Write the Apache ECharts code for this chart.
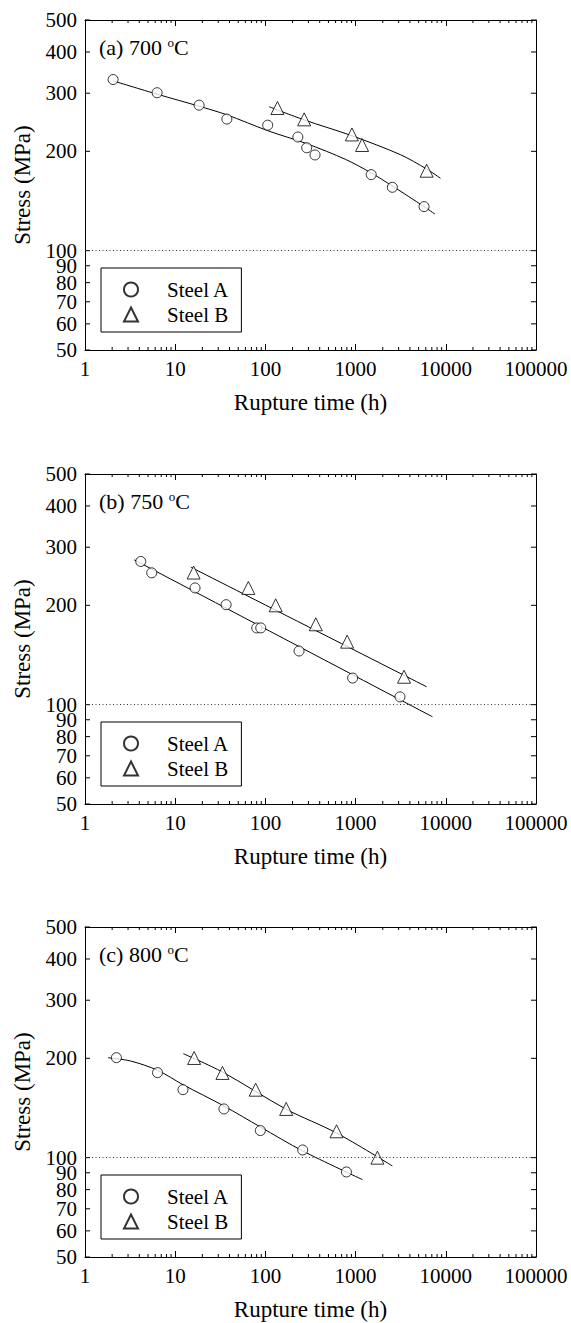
<!DOCTYPE html>
<html>
<head>
<meta charset="utf-8">
<script src="https://cdn.jsdelivr.net/npm/echarts@6/dist/echarts.min.js"></script>
<style>
html,body{margin:0;padding:0;background:#fff;}
#chart{width:571px;height:1323px;}
</style>
</head>
<body>
<div id="chart"></div>
<script>
// ---------- tick labels ----------
const xTickLabels = [1, 10, 100, 1000, 10000, 100000];
const xMinorTicks = [2,3,4,5,6,7,8,9, 20,30,40,50,60,70,80,90, 200,300,400,500,600,700,800,900,
                     2000,3000,4000,5000,6000,7000,8000,9000, 20000,30000,40000,50000,60000,70000,80000,90000];
const yTickValues = [50, 60, 70, 80, 90, 100, 200, 300, 400, 500];
const panelTemps = ['(a) 700 ', '(b) 750 ', '(c) 800 '];
const seriesNames = ['Steel A', 'Steel B'];

// ---------- (a) 700 °C ----------
const a_steelA_time   = [2.05, 6.3, 18.4, 37.4, 106, 229, 287, 355, 1490, 2555, 5740];
const a_steelA_stress = [330, 301, 276, 250.5, 240, 221, 205, 195, 170, 155.6, 136];
const a_steelB_time   = [136, 269, 910, 1180, 6130];
const a_steelB_stress = [270.6, 250, 225, 209, 174.7];
const a_fitA_time     = [2.05, 6.3, 18.4, 37.4, 106, 287, 776, 1490, 2555, 5740, 7590];
const a_fitA_stress   = [327, 298, 274, 258, 231, 211, 189, 172, 157, 136, 129];
const a_fitB_time     = [110, 269, 910, 3135, 6130, 8730];
const a_fitB_stress   = [273, 249, 223, 195.4, 176.8, 165.7];

// ---------- (b) 750 °C ----------
const b_steelA_time   = [4.15, 5.49, 16.6, 36.7, 80.1, 88.8, 236, 927, 3105];
const b_steelA_stress = [271.6, 250.9, 225.8, 200.9, 170.8, 170.8, 145.4, 120.4, 105.6];
const b_steelB_time   = [16.0, 64.7, 130, 362, 806, 3443];
const b_steelB_stress = [251.4, 225.8, 200, 175.2, 155.2, 121.5];
const b_fitA_time     = [3.51, 7115];
const b_fitA_stress   = [274.7, 91.9];
const b_fitB_time     = [14.9, 6130];
const b_fitB_stress   = [261, 113.3];

// ---------- (c) 800 °C ----------
const c_steelA_time   = [2.23, 6.37, 12.2, 34.7, 87.9, 259, 791];
const c_steelA_stress = [200.9, 181, 160.7, 140.5, 120.8, 105.5, 90.5];
const c_steelB_time   = [16.2, 33.4, 78, 170, 615, 1745];
const c_steelB_stress = [200.5, 180.6, 160.7, 140.5, 120.2, 100];
const c_fitA_time     = [1.80, 3.2, 6.37, 12.2, 34.7, 87.9, 259, 1191];
const c_fitA_stress   = [200.9, 196.3, 184, 166.4, 143.4, 123.9, 104.8, 85.8];
const c_fitB_time     = [12.3, 33.4, 170, 615, 2555];
const c_fitB_stress   = [206.6, 181.8, 140.2, 118.8, 94.4];

const refLineStress = 100;

// ---------- build ----------
const FONT = "'Liberation Serif','Times New Roman',serif";
const zip = (xs, ys) => xs.map((x, k) => [x, ys[k]]);

const panelData = [
  {A: zip(a_steelA_time, a_steelA_stress), B: zip(a_steelB_time, a_steelB_stress),
   fA: zip(a_fitA_time, a_fitA_stress), fB: zip(a_fitB_time, a_fitB_stress)},
  {A: zip(b_steelA_time, b_steelA_stress), B: zip(b_steelB_time, b_steelB_stress),
   fA: zip(b_fitA_time, b_fitA_stress), fB: zip(b_fitB_time, b_fitB_stress)},
  {A: zip(c_steelA_time, c_steelA_stress), B: zip(c_steelB_time, c_steelB_stress),
   fA: zip(c_fitA_time, c_fitA_stress), fB: zip(c_fitB_time, c_fitB_stress)}
];

const panelTops = [20, 474, 927];
const GL = 85, GW = 451, GH = 330;
const xMin = xTickLabels[0], xMax = xTickLabels[xTickLabels.length - 1];
const yMin = yTickValues[0], yMax = yTickValues[yTickValues.length - 1];

const grid = [], xAxis = [], yAxis = [], series = [], legend = [], title = [];
const black = '#000';

panelTops.forEach((T, i) => {
  grid.push({left: GL, top: T, width: GW, height: GH});
  const axisLine = {show: true, lineStyle: {color: black, width: 1}};
  xAxis.push({
    type: 'log', logBase: 10, gridIndex: i, min: xMin, max: xMax, position: 'bottom',
    axisLine, axisTick: {show: true, inside: true, length: 6, lineStyle: {color: black}},
    axisLabel: {color: black, fontSize: 21, fontFamily: FONT, margin: 8,
                formatter: v => String(Math.round(v))},
    splitLine: {show: false},
    name: 'Rupture time (h)', nameLocation: 'middle', nameGap: 41,
    nameTextStyle: {color: black, fontSize: 23, fontFamily: FONT, fontWeight: 'normal'}
  });
  xAxis.push({
    type: 'log', logBase: 10, gridIndex: i, min: xMin, max: xMax, position: 'top',
    axisLine, axisTick: {show: true, inside: true, length: 6, lineStyle: {color: black}},
    axisLabel: {show: false}, splitLine: {show: false}
  });
  yAxis.push({
    type: 'log', logBase: 10, gridIndex: i, min: yMin, max: yMax, position: 'left',
    axisLine, axisTick: {show: false}, axisLabel: {show: false}, splitLine: {show: false},
    name: 'Stress (MPa)', nameLocation: 'middle', nameGap: 51, nameRotate: 90,
    nameTextStyle: {color: black, fontSize: 23, fontFamily: FONT, fontWeight: 'normal'}
  });
  yAxis.push({
    type: 'log', logBase: 10, gridIndex: i, min: yMin, max: yMax, position: 'right',
    axisLine, axisTick: {show: false}, axisLabel: {show: false}, splitLine: {show: false}
  });

  const xi = 2 * i, yi = 2 * i;
  const d = panelData[i];
  const mk = {color: '#fff', borderColor: black, borderWidth: 1};
  series.push({
    name: seriesNames[0], type: 'scatter', xAxisIndex: xi, yAxisIndex: yi,
    data: d.A, symbol: 'circle', symbolSize: 10, itemStyle: mk, z: 4
  });
  series.push({
    name: seriesNames[1], type: 'scatter', xAxisIndex: xi, yAxisIndex: yi,
    data: d.B, symbol: 'triangle', symbolSize: 13, itemStyle: mk, z: 4
  });
  series.push({
    name: 'fitA' + i, type: 'line', xAxisIndex: xi, yAxisIndex: yi, data: d.fA,
    symbol: 'none', smooth: 0.3, lineStyle: {color: black, width: 1}, z: 3,
    markLine: {
      silent: true, symbol: ['none', 'none'], label: {show: false},
      lineStyle: {color: '#333', width: 1, type: [1, 2.5]},
      data: [{yAxis: refLineStress}]
    }
  });
  series.push({
    name: 'fitB' + i, type: 'line', xAxisIndex: xi, yAxisIndex: yi, data: d.fB,
    symbol: 'none', smooth: 0.3, lineStyle: {color: black, width: 1}, z: 3
  });
  // minor ticks on bottom and top x axes
  series.push({
    type: 'custom', xAxisIndex: xi, yAxisIndex: yi, silent: true, z: 2,
    data: xMinorTicks.map(v => [v, yMin]),
    renderItem: (params, api) => {
      const x = api.value(0);
      const b = api.coord([x, yMin]), t = api.coord([x, yMax]);
      const st = {stroke: black, lineWidth: 1};
      return {type: 'group', children: [
        {type: 'line', shape: {x1: b[0], y1: b[1], x2: b[0], y2: b[1] - 3}, style: st},
        {type: 'line', shape: {x1: t[0], y1: t[1], x2: t[0], y2: t[1] + 3}, style: st}
      ]};
    }
  });
  // y ticks (left and right) and y tick labels
  series.push({
    type: 'custom', xAxisIndex: xi, yAxisIndex: yi, silent: true, z: 2,
    data: yTickValues.map(v => [xMin, v]),
    renderItem: (params, api) => {
      const v = api.value(1);
      const l = api.coord([xMin, v]), r = api.coord([xMax, v]);
      const st = {stroke: black, lineWidth: 1};
      return {type: 'group', children: [
        {type: 'line', shape: {x1: l[0], y1: l[1], x2: l[0] + 5, y2: l[1]}, style: st},
        {type: 'line', shape: {x1: r[0], y1: r[1], x2: r[0] - 5, y2: r[1]}, style: st},
        {type: 'text', x: l[0] - 8, y: l[1],
         style: {text: String(v), fill: black, fontSize: 21, fontFamily: FONT,
                 align: 'right', verticalAlign: 'middle'}}
      ]};
    }
  });

  legend.push({
    data: seriesNames, orient: 'vertical', left: 101, top: T + 248,
    padding: [11, 12, 7, 22], itemGap: 4, itemWidth: 14, itemHeight: 14,
    selectedMode: false, borderColor: black, borderWidth: 1,
    textStyle: {color: black, fontSize: 21, fontFamily: FONT, padding: [0, 0, 0, 24]}
  });

  title.push({
    text: '{n|' + panelTemps[i] + '}{s|o}{n|C}', left: 99, top: T + 16, padding: 0,
    textStyle: {fontWeight: 'normal', rich: {
      n: {fontSize: 22, fontFamily: FONT, color: black, fontWeight: 'normal'},
      s: {fontSize: 13, fontFamily: FONT, color: black, fontWeight: 'normal', verticalAlign: 'top'}
    }}
  });
});

const chart = echarts.init(document.getElementById('chart'), null, {renderer: 'svg'});
chart.setOption({
  animation: false,
  backgroundColor: '#fff',
  title, grid, xAxis, yAxis, legend, series
});
</script>
</body>
</html>
